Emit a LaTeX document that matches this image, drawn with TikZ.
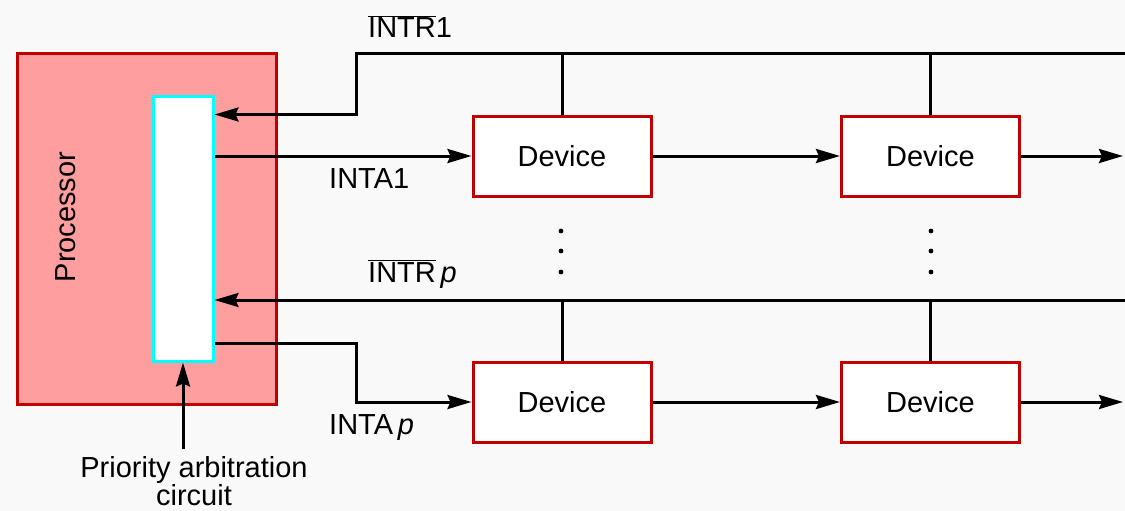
\documentclass[tikz,border=0pt]{standalone}
\usepackage{fontspec}
\setmainfont{Liberation Sans}
\usetikzlibrary{arrows.meta}

\definecolor{procfill}{RGB}{255,158,158}
\definecolor{boxred}{RGB}{192,0,0}
\definecolor{arbcyan}{RGB}{0,255,255}
\definecolor{paper}{RGB}{249,249,249}

\begin{document}
\begin{tikzpicture}[x=1pt, y=-1pt,
    >={Stealth[length=24pt, width=14pt, inset=3pt]},
    wire/.style={line width=3pt},
    sig/.style={wire, ->},
    lbl/.style={font=\fontsize{29}{28}\selectfont, inner sep=1pt},
    dev/.style={lbl, draw=boxred, fill=white, line width=3pt,
                minimum width=178pt, minimum height=80pt}]

    % 画布大小
    \useasboundingbox (0,0) rectangle (1125,511);
    \fill[paper] (0,0) rectangle (1125,511);

    % 定义公共变量
    \def\kneex{356}      % 折线拐点的横坐标
    \def\rightx{1125}    % 总线右端
    \def\lineone{54}     % INTR1 总线高度
    \def\linep{300}      % INTRp 总线高度

    % 处理器和优先级仲裁电路
    \node[draw=boxred, fill=procfill, line width=3pt,
          minimum width=259pt, minimum height=350pt] (cpu) at (146.5,229) {};
    \node[lbl, rotate=90] (cputxt) at (66,217) {Processor};
    \node[draw=arbcyan, fill=white, line width=3pt,
          minimum width=60pt, minimum height=264pt] (arb) at (183,229) {};

    % 设备:两行两列
    \foreach \r/\y in {1/156,p/402} {
      \foreach \c/\x in {1/562,2/930.5} {
        \node[dev] (d\r\c) at (\x,\y) {Device};
      }
    }

    % 总线端点
    \coordinate (r1) at (\rightx,\lineone);
    \coordinate (k1) at (\kneex,\lineone);
    \coordinate (rp) at (\rightx,\linep);
    \coordinate (kp) at (\kneex,343);
    \coordinate (o1) at (1123,156);
    \coordinate (op) at (1123,402);

    % INTR1 和 INTA1
    \draw[sig] (r1) -- (k1) |- (arb.east |- d11.north);
    \foreach \c in {1,2} {
      \draw[wire] (d1\c.north) -- (d1\c.north |- k1);
    }
    \draw[sig] (arb.east |- d11.west) -- (d11.west);

    % INTRp 和 INTAp
    \draw[sig] (rp) -- (arb.east |- rp);
    \foreach \c in {1,2} {
      \draw[wire] (dp\c.north) -- (dp\c.north |- rp);
    }
    \draw[sig] (arb.east |- kp) -- (kp) |- (dp1.west);

    % 设备之间的菊花链
    \foreach \r in {1,p} {
      \draw[sig] (d\r1) -- (d\r2);
      \draw[sig] (d\r2) -- (o\r);
    }

    % 省略号
    \foreach \x in {561,931} {
      \foreach \y in {231,251,272} {
        \fill (\x,\y) circle (2.4pt);
      }
    }

    % 信号名称
    \node[lbl, anchor=base west] (t1) at (367,38) {$\overline{\mbox{INTR}}$1};
    \node[lbl, anchor=base west] (a1) at (328,188) {INTA1};
    \node[lbl, anchor=base west] (tp) at (367,282) {$\overline{\mbox{INTR}}$\,\textit{p}};
    \node[lbl, anchor=base west] (ap) at (328,434) {INTA\,\textit{p}};

    % 仲裁电路说明
    \node[lbl, align=center] (arbtxt) at (194,481) {Priority arbitration\\circuit};
    \draw[sig] ([yshift=6pt]arbtxt.north -| arb.south) -- (arb.south);

\end{tikzpicture}
\end{document}
